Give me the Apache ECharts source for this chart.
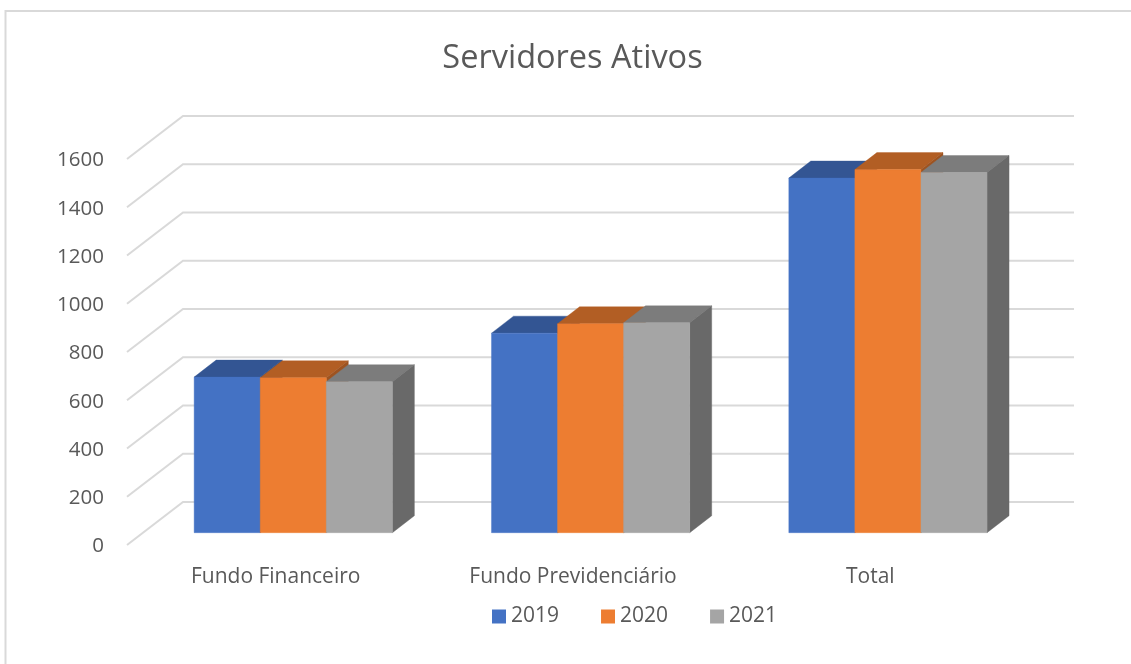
<!DOCTYPE html>
<html><head><meta charset="utf-8">
<style>html,body{margin:0;padding:0;background:#fff}#c{width:1131px;height:664px}</style>
<script src="https://cdn.jsdelivr.net/npm/echarts@6/dist/echarts.min.js"></script>
</head><body><div id="c"></div>
<script>
const categories = ['Fundo Financeiro', 'Fundo Previdenciário', 'Total'];
const years = ['2019', '2020', '2021'];
const values2019 = [645, 827, 1470];
const values2020 = [642, 866, 1505];
const values2021 = [626, 870, 1493];
const yTicks = [0, 200, 400, 600, 800, 1000, 1200, 1400, 1600];
const faces = [
  { front: '#4472c4', top: '#335593', side: '#2b4a80' },
  { front: '#ed7d31', top: '#b25e24', side: '#9e5320' },
  { front: '#a5a5a5', top: '#7c7c7c', side: '#696969' }
];
const FONT = '"Open Sans"', TXT = '#595959', GRID = '#d9d9d9';
const wallDX = 56, wallDY = 43, barOffX = 17.6, barOffY = 12.3, barDX = 22, barDY = 17;

function poly(points, fill) {
  return { type: 'polygon', shape: { points }, style: { fill, stroke: fill, lineWidth: 0.4 } };
}
function barRenderer(s) {
  return function (params, api) {
    const cat = api.value(0), val = api.value(1);
    const cw = api.size([1, 0])[0], w = cw / 4.5;
    const top = api.coord([cat, val]), base = api.coord([cat, 0]);
    const x0 = top[0] + barOffX - 1.5 * w + s * w, x1 = x0 + w;
    const yT = top[1] - barOffY, yB = base[1] - barOffY;
    const f = faces[s];
    return { type: 'group', children: [
      poly([[x0, yT], [x0 + barDX, yT - barDY], [x1 + barDX, yT - barDY], [x1, yT]], f.top),
      poly([[x1, yT], [x1 + barDX, yT - barDY], [x1 + barDX, yB - barDY], [x1, yB]], f.side),
      poly([[x0, yT], [x1, yT], [x1, yB], [x0, yB]], f.front)
    ]};
  };
}
function wallRenderer(params, api) {
  const p = api.coord([0, api.value(0)]);
  const x = params.coordSys.x, r = x + params.coordSys.width;
  return { type: 'polyline', shape: { points: [[x, p[1]], [x + wallDX, p[1] - wallDY], [r + wallDX - 1, p[1] - wallDY]] },
    style: { fill: 'none', stroke: GRID, lineWidth: 2 } };
}
const seriesVals = [values2019, values2020, values2021];
const chart = echarts.init(document.getElementById('c'), null, { renderer: 'canvas' });
chart.setOption({
  animation: false,
  backgroundColor: '#fff',
  title: { text: 'Servidores Ativos', left: 567.5, top: 37, textAlign: 'center',
    textStyle: { fontFamily: FONT, fontSize: 32.5, fontWeight: 'normal', color: TXT } },
  legend: { data: years, left: 487, top: 601, itemWidth: 14, itemHeight: 14, itemGap: 42, icon: 'rect',
    textStyle: { fontFamily: FONT, fontSize: 21, color: TXT } },
  grid: { left: 127, top: 159, width: 892, height: 386 },
  xAxis: { type: 'category', data: categories, axisLine: { show: false }, axisTick: { show: false },
    axisLabel: { margin: 22, fontFamily: FONT, fontSize: 21, color: TXT } },
  yAxis: { type: 'value', min: 0, max: 1600, interval: 200, axisLine: { show: false }, axisTick: { show: false },
    splitLine: { show: false }, axisLabel: { margin: 23, verticalAlign: 'top', lineHeight: 3, fontFamily: FONT, fontSize: 20.5, color: TXT, formatter: v => String(v) } },
  graphic: [{ type: 'rect', shape: { x: 5.5, y: 11, width: 1140, height: 670 }, silent: true,
    style: { fill: 'none', stroke: GRID, lineWidth: 2 } }],
  series: [
    { type: 'custom', name: 'wall', silent: true, z: 1, data: yTicks.map(v => [v]), encode: { y: 0 }, renderItem: wallRenderer }
  ].concat(years.map((y, s) => ({
    type: 'custom', name: y, z: 2 + s, itemStyle: { color: faces[s].front },
    data: categories.map((c, i) => [i, seriesVals[s][i]]),
    encode: { x: 0, y: 1 }, renderItem: barRenderer(s)
  })))
});
</script></body></html>
